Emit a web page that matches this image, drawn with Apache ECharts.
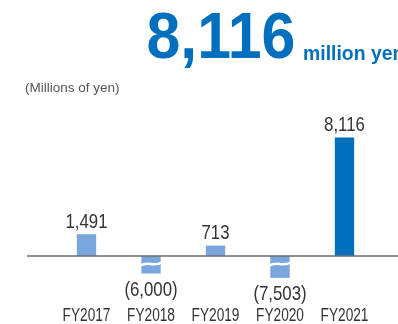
<!DOCTYPE html>
<html>
<head>
<meta charset="utf-8">
<script src="https://cdn.jsdelivr.net/npm/echarts@6/dist/echarts.min.js"></script>
<style>html,body{margin:0;padding:0;background:#fff;}#c{width:398px;height:324px;}</style>
</head>
<body>
<div id="c"></div>
<script>
const categories = ['FY2017', 'FY2018', 'FY2019', 'FY2020', 'FY2021'];
const values = [1491, -6000, 713, -7503, 8116];
const headline = '8,116';
const headlineUnit = 'million yen';
const unitLabel = '(Millions of yen)';

const FONT = '"Liberation Sans", Arial, sans-serif';
const LIGHT = '#79a6dc';
const DARK = '#006fbe';
const TEXT = '#333333';
const BREAK_SCALE = 0.2;

function fmt(v) {
  const s = Math.abs(v).toLocaleString('en-US');
  return v < 0 ? '(' + s + ')' : s;
}

const chart = echarts.init(document.getElementById('c'), null, {renderer: 'canvas'});

chart.setOption({
  animation: false,
  backgroundColor: '#ffffff',
  title: [
    {text: unitLabel, left: 25, top: 81, padding: 0,
     textStyle: {fontFamily: FONT, fontSize: 13.5, fontWeight: 'normal', color: '#555555'}}
  ],
  graphic: [
    {id: 'headline', type: 'text', x: 146.5, y: 8, scaleX: 0.95,
     style: {text: headline, fontFamily: FONT, fontSize: 64, fontWeight: 'bold', fill: DARK, verticalAlign: 'top'}},
    {id: 'unit', type: 'text', x: 303, y: 44, scaleX: 0.97,
     style: {text: headlineUnit, fontFamily: FONT, fontSize: 20, fontWeight: 'bold', fill: DARK, verticalAlign: 'top'}}
  ],
  grid: {left: 54.25, right: 21.25, top: 124.6, bottom: 38.8},
  xAxis: {
    type: 'category', data: categories,
    axisLine: {show: false}, axisTick: {show: false},
    axisLabel: {show: false}
  },
  yAxis: {
    type: 'value', min: -2000, max: 9000,
    show: false, splitLine: {show: false}
  },
  series: [{
    type: 'custom',
    data: values.map((v, i) => [i, v]),
    renderItem: function (params, api) {
      const i = api.value(0), v = api.value(1);
      const base = api.coord([i, 0]);
      const band = api.size([1, 0])[0];
      const w = band * 0.3;
      const x0 = base[0] - w / 2;
      const color = params.dataIndex === values.length - 1 ? DARK : LIGHT;
      const lbl = (text, y, va) => ({
        type: 'text', x: base[0], y: y, scaleX: 0.8,
        style: {text: text, x: 0, y: 0, fontFamily: FONT, fontSize: 21, fill: TEXT, align: 'center', verticalAlign: va}
      });
      const cat = {
        type: 'text', x: base[0], y: base[1] + 51, scaleX: 0.76,
        style: {text: categories[i], x: 0, y: 0, fontFamily: FONT, fontSize: 18, fill: TEXT, align: 'center', verticalAlign: 'top'}
      };
      if (v >= 0) {
        const top = api.coord([i, v]);
        return {type: 'group', children: [
          {type: 'rect', shape: {x: x0, y: top[1], width: w, height: base[1] - top[1]}, style: {fill: color}},
          lbl(fmt(v), top[1] - 2, 'bottom'),
          cat
        ]};
      }
      const depth = api.size([0, -v])[1] * BREAK_SCALE;
      const yb = base[1] + 8;
      return {type: 'group', children: [
        {type: 'rect', shape: {x: x0, y: base[1], width: w, height: depth}, style: {fill: color}},
        {type: 'path', shape: {pathData: 'M' + (x0 - 1) + ' ' + (yb + 1.5) + ' C' + (x0 + w * 0.35) + ' ' + (yb - 3) + ' ' + (x0 + w * 0.65) + ' ' + (yb + 3) + ' ' + (x0 + w + 1) + ' ' + (yb - 1.5)},
         style: {fill: null, stroke: '#ffffff', lineWidth: 2.5}},
        lbl(fmt(v), base[1] + depth + 6, 'top'),
        cat
      ]};
    }
  }]
});

const y0 = chart.convertToPixel({yAxisIndex: 0}, 0);
chart.setOption({
  graphic: [{id: 'zeroLine', type: 'line', z: 10, shape: {x1: 27, y1: y0, x2: 398, y2: y0}, style: {stroke: '#6e6e6e', lineWidth: 1.5}}]
});
</script>
</body>
</html>
